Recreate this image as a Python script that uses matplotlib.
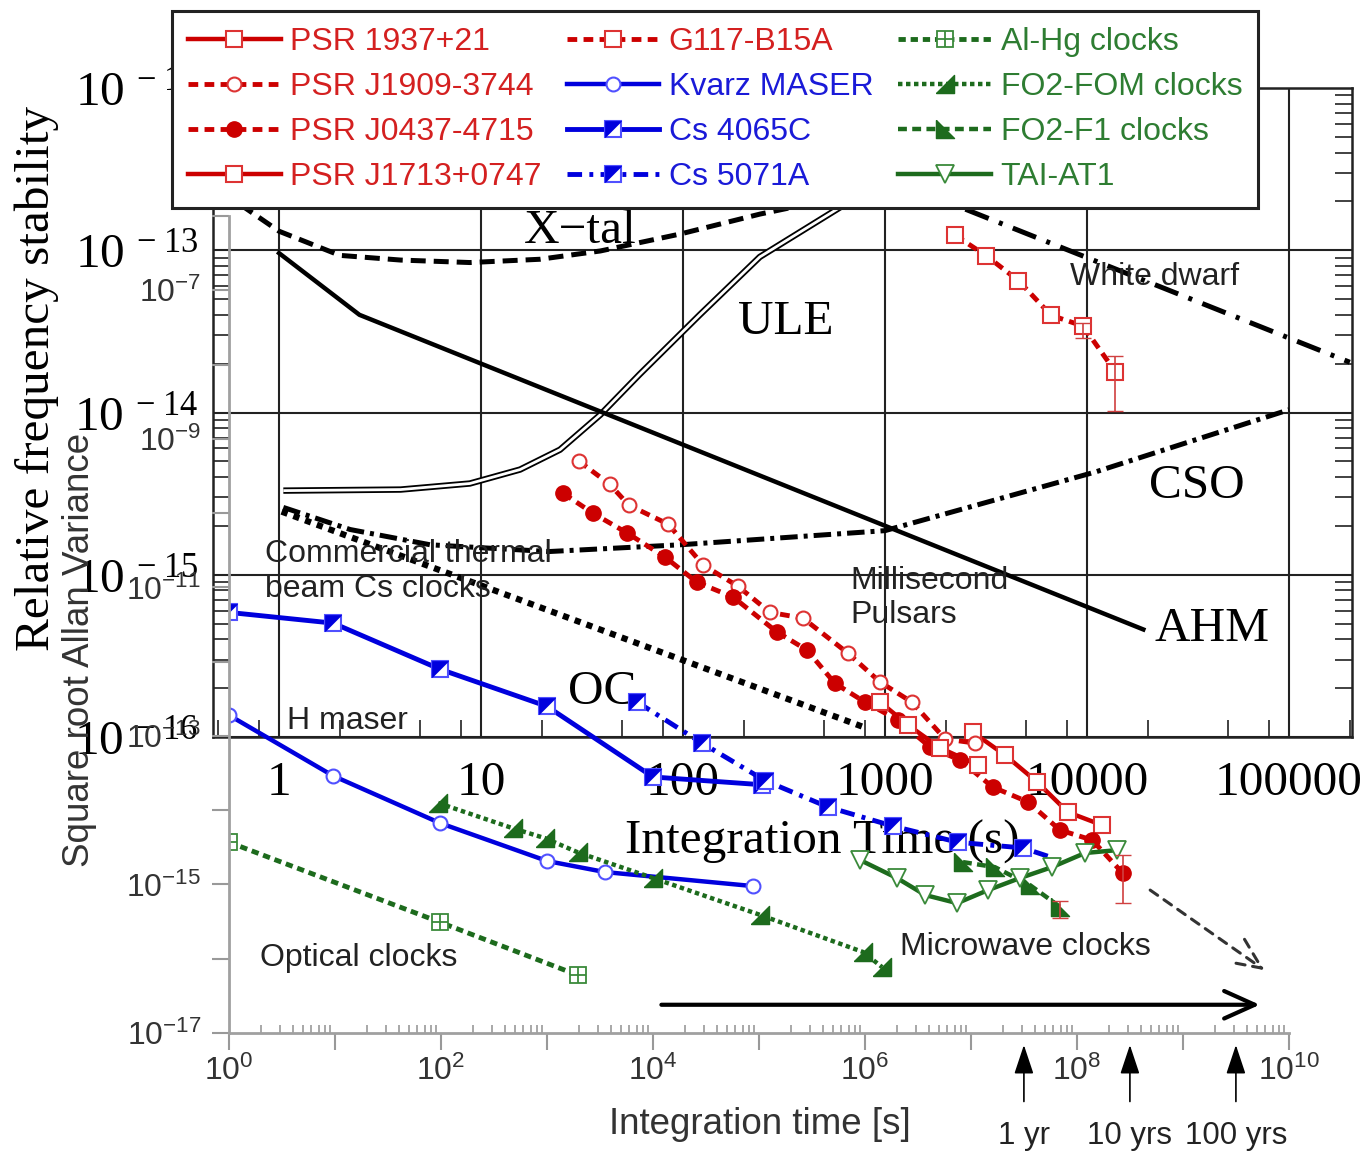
import numpy as np
import matplotlib.pyplot as plt
from matplotlib.ticker import FixedLocator, NullFormatter, LogLocator, NullLocator
from matplotlib.path import Path

plt.rcParams['font.family'] = 'Liberation Sans'

# ---------------- chart A : relative frequency stability ----------------
xtal_tau = [0.64, 1.0, 2.0, 4.0, 8.8, 19.6, 39, 97, 240, 600]
xtal_sig = [1.92e-13, 1.31e-13, 9.3e-14, 8.7e-14, 8.4e-14, 8.8e-14, 9.9e-14, 1.26e-13, 1.67e-13, 2.12e-13]

ule_tau = [1.05, 4.0, 8.8, 15.6, 24.6, 39, 61, 121, 240, 634]
ule_sig = [3.3e-15, 3.35e-15, 3.65e-15, 4.45e-15, 5.9e-15, 9.7e-15, 1.72e-14, 4.0e-14, 9.1e-14, 1.92e-13]

ahm_tau = [1.0, 2.5, 1.9e4]
ahm_sig = [9.6e-14, 4.0e-14, 4.6e-16]

cso_tau = [1.05, 2.25, 5.6, 21.7, 97, 1000, 1.1e4, 1.0e5]
cso_sig = [2.6e-15, 1.9e-15, 1.53e-15, 1.39e-15, 1.53e-15, 1.87e-15, 4.3e-15, 1.04e-14]

wd_tau = [2.5e3, 2.0e5]
wd_sig = [1.79e-13, 2.04e-14]

oc_tau = [1.03, 800]
oc_sig = [2.45e-15, 1.14e-16]

a_xticks = [1, 10, 100, 1000, 10000, 100000]
a_xticklabels = ['1', '10', '100', '1000', '10000', '100000']
a_yticks = [1e-16, 1e-15, 1e-14, 1e-13, 1e-12]
a_yticklabels = [r'$\mathdefault{10^{\,-16}}$', r'$\mathdefault{10^{\,-15}}$', r'$\mathdefault{10^{\,-14}}$',
                 r'$\mathdefault{10^{\,-13}}$', r'$\mathdefault{10^{\,-12}}$']

# ---------------- chart B : square root Allan variance ----------------
psr1937_tau = [1.04e7, 2.1e7, 4.2e7, 8.2e7, 1.72e8]
psr1937_sig = [1.12e-13, 5.5e-14, 2.4e-14, 9.4e-15, 6.3e-15]

j1909_tau = [2.0e3, 3.9e3, 5.9e3, 1.39e4, 2.97e4, 6.3e4, 1.27e5, 2.6e5, 6.9e5, 1.39e6, 2.77e6, 5.7e6, 1.09e7]
j1909_sig = [5.0e-10, 2.45e-10, 1.28e-10, 7.1e-11, 2.0e-11, 1.04e-11, 4.6e-12, 3.85e-12, 1.3e-12,
             5.3e-13, 2.85e-13, 9.1e-14, 8.0e-14]

j0437_tau = [1.42e3, 2.7e3, 5.7e3, 1.3e4, 2.6e4, 5.7e4, 1.48e5, 2.84e5, 5.2e5, 1.0e6, 2.05e6, 4.1e6,
             7.9e6, 1.6e7, 3.45e7, 6.9e7, 1.39e8, 2.7e8]
j0437_sig = [1.85e-10, 1.0e-10, 5.4e-11, 2.55e-11, 1.17e-11, 7.4e-12, 2.5e-12, 1.43e-12, 5.1e-13, 2.85e-13,
             1.63e-13, 7.1e-14, 4.7e-14, 2.05e-14, 1.29e-14, 5.4e-15, 3.96e-15, 1.42e-15]

j1713_tau = [1.39e6, 2.55e6, 5.1e6, 1.16e7]
j1713_sig = [2.85e-13, 1.4e-13, 6.9e-14, 4.05e-14]

g117_tau = [7.1e6, 1.4e7, 2.8e7, 5.7e7, 1.14e8, 2.3e8]
g117_sig = [5.5e-7, 2.9e-7, 1.35e-7, 4.6e-8, 3.3e-8, 8.0e-9]

kvarz_tau = [1, 9.6, 98, 1.0e3, 3.5e3, 8.8e4]
kvarz_sig = [1.9e-13, 2.9e-14, 6.7e-15, 2.07e-15, 1.47e-15, 9.5e-16]

cs4065_tau = [1, 9.6, 98, 1.0e3, 1.0e4, 1.07e5]
cs4065_sig = [4.6e-12, 3.3e-12, 7.9e-13, 2.5e-13, 2.8e-14, 2.2e-14]

cs5071_tau = [7.1e3, 2.9e4, 1.14e5, 4.5e5, 1.84e6, 7.5e6, 3.1e7, 5.6e7]
cs5071_sig = [2.85e-13, 8.0e-14, 2.5e-14, 1.1e-14, 6.1e-15, 3.7e-15, 3.1e-15, 2.34e-15]

alhg_tau = [1, 98, 1.96e3]
alhg_sig = [3.7e-15, 3.1e-16, 6.0e-17]

fom_tau = [94, 478, 957, 1.96e3, 1.0e4, 1.02e5, 9.6e5, 1.45e6]
fom_sig = [1.25e-14, 5.7e-15, 4.2e-15, 2.7e-15, 1.22e-15, 3.9e-16, 1.23e-16, 7.7e-17]

f1_tau = [8.4e6, 1.68e7, 3.6e7, 6.9e7]
f1_sig = [2.0e-15, 1.71e-15, 9.8e-16, 5.0e-16]

tai_tau = [9.0e5, 2.0e6, 3.7e6, 7.4e6, 1.45e7, 2.9e7, 5.8e7, 1.19e8, 2.4e8]
tai_sig = [2.13e-15, 1.22e-15, 7.2e-16, 5.6e-16, 8.4e-16, 1.22e-15, 1.71e-15, 2.65e-15, 2.9e-15]

# error bars (tau, value, lower end, upper end)
err_tau = [1.14e8, 2.3e8, 2.7e8, 6.9e7]
err_sig = [3.3e-8, 8.0e-9, 1.42e-15, 5.0e-16]
err_lo = [2.3e-8, 2.4e-9, 5.6e-16, 3.5e-16]
err_hi = [3.6e-8, 1.3e-8, 2.5e-15, 6.0e-16]

b_xticks = [10.0 ** k for k in range(0, 11)]
b_xticklabels = [r'$\mathdefault{10^{%d}}$' % k if k % 2 == 0 else '' for k in range(0, 11)]
b_yticks = [10.0 ** k for k in range(-17, -5)]
b_yticklabels = [r'$\mathdefault{10^{%d}}$' % k if k % 2 == 1 else '' for k in range(-17, -5)]

years_tau = [3.156e7, 3.156e8, 3.156e9]
years_lab = ['1 yr', '10 yrs', '100 yrs']

W, H = 1369, 1153
fig = plt.figure(figsize=(W / 100, H / 100), dpi=100)

RED = '#cc0000'
RED_M = '#dd3333'
BLUE = '#0000dd'
BLUE_M = '#5050ff'
GREEN = '#1d6b1d'
GREEN_L = '#3a8a3a'
SERIF = 'Liberation Serif'
FS_A = 35.5

# ---------------- axes A ----------------
axA = fig.add_axes([213 / W, (H - 737) / H, (1352 - 213) / W, (737 - 88) / H], zorder=1)
axA.set_xscale('log')
axA.set_yscale('log')
axA.set_xlim(0.471, 2.05e5)
axA.set_ylim(1e-16, 1e-12)

axA.plot(xtal_tau, xtal_sig, color='k', lw=3.6, ls=(0, (3, 1.6)))
axA.plot(ule_tau, ule_sig, color='k', lw=4.6, solid_capstyle='butt')
axA.plot(ule_tau, ule_sig, color='white', lw=2.0, solid_capstyle='butt')
axA.plot(ahm_tau, ahm_sig, color='k', lw=3.2)
axA.plot(cso_tau, cso_sig, color='k', lw=3.6, ls=(0, (3.5, 1.2, 0.8, 1.2)))
axA.plot(wd_tau, wd_sig, color='k', lw=3.6, ls=(0, (5, 2.2, 0.8, 2.2)))
axA.plot(oc_tau, oc_sig, color='k', lw=4.5, ls=(0, (1, 1)))

axA.text(30.9, 1.31e-13, 'X\u2212tal', fontfamily=SERIF, fontsize=FS_A, ha='center', va='center')
axA.text(324, 3.6e-14, 'ULE', fontfamily=SERIF, fontsize=FS_A, ha='center', va='center')
axA.text(3.5e4, 3.5e-15, 'CSO', fontfamily=SERIF, fontsize=FS_A, ha='center', va='center')
axA.text(4.16e4, 4.6e-16, 'AHM', fontfamily=SERIF, fontsize=FS_A, ha='center', va='center')
axA.text(39.7, 1.9e-16, 'OC', fontfamily=SERIF, fontsize=FS_A, ha='center', va='center')

axA.grid(True, which='major', color='#222222', lw=1.5)
axA.set_xticks(a_xticks, a_xticklabels, fontfamily=SERIF, fontsize=FS_A)
axA.set_yticks(a_yticks, a_yticklabels, fontfamily=SERIF, fontsize=FS_A)
axA.xaxis.set_minor_locator(LogLocator(base=10, subs=(2, 5, 8), numticks=20))
axA.yaxis.set_minor_locator(LogLocator(base=10, subs=np.arange(2, 10), numticks=20))
axA.xaxis.set_minor_formatter(NullFormatter())
axA.yaxis.set_minor_formatter(NullFormatter())
axA.tick_params(which='major', length=0)
axA.tick_params(axis='x', which='major', pad=17)
axA.tick_params(axis='y', which='major', pad=11)
axA.tick_params(which='minor', direction='in', length=12, width=1.3, color='#333333',
                left=True, right=True, bottom=True, top=False)
for s in axA.spines.values():
    s.set_linewidth(1.8)
    s.set_color('#222222')
axA.text(-0.1545, 0.553, 'Relative frequency stability', transform=axA.transAxes, rotation=90,
         fontfamily=SERIF, fontsize=FS_A, ha='center', va='center')
axA.text(0.535, -0.162, 'Integration Time (s)', transform=axA.transAxes,
         fontfamily=SERIF, fontsize=FS_A, ha='center', va='center')

# ---------------- axes B ----------------
axB = fig.add_axes([229 / W, (H - 1033) / H, (1289 - 229) / W, 817 / H], zorder=2)
axB.patch.set_alpha(0)
axB.set_xscale('log')
axB.set_yscale('log')
axB.set_xlim(1, 1e10)
axB.set_ylim(1e-17, 1e-6)

tri_ul = Path([(-1, -1), (-1, 1), (1, 1), (-1, -1)], closed=True)
tri_fom = [(-1, -1), (1, -1), (1, 1), (-1, -1)]
tri_f1 = [(-1, 1), (-1, -1), (1, -1), (-1, 1)]

h_1937, = axB.plot(psr1937_tau, psr1937_sig, color=RED, lw=3.2, marker='s', ms=11,
                   mfc='white', mec=RED_M, mew=1.5)
h_1909, = axB.plot(j1909_tau, j1909_sig, color=RED, lw=3.5, ls=(0, (2, 1.3)), marker='o', ms=10,
                   mfc='white', mec=RED_M, mew=1.5)
h_0437, = axB.plot(j0437_tau, j0437_sig, color=RED, lw=3.5, ls=(0, (2, 1.3)), marker='o', ms=11,
                   mfc=RED, mec=RED)
h_1713, = axB.plot(j1713_tau, j1713_sig, color=RED, lw=3.2, marker='s', ms=11,
                   mfc='white', mec=RED_M, mew=1.5)
h_g117, = axB.plot(g117_tau, g117_sig, color=RED, lw=3.5, ls=(0, (2, 1.3)), marker='s', ms=11,
                   mfc='white', mec=RED_M, mew=1.5)

h_kvarz, = axB.plot(kvarz_tau, kvarz_sig, color=BLUE, lw=3.2, marker='o', ms=10,
                    mfc='white', mec=BLUE_M, mew=1.5)
h_4065a, = axB.plot(cs4065_tau, cs4065_sig, color=BLUE, lw=3.5, marker='s', ms=11,
                    mfc='white', mec=BLUE_M, mew=1.5)
h_4065b, = axB.plot(cs4065_tau, cs4065_sig, ls='none', marker=tri_ul, ms=11, mfc=BLUE, mec=BLUE, mew=0.5)
h_5071a, = axB.plot(cs5071_tau, cs5071_sig, color=BLUE, lw=3.5, ls=(0, (3, 1.5, 0.8, 1.5)), marker='s',
                    ms=11, mfc='white', mec=BLUE_M, mew=1.5, markevery=slice(0, -1))
h_5071b, = axB.plot(cs5071_tau[:-1], cs5071_sig[:-1], ls='none', marker=tri_ul, ms=11,
                    mfc=BLUE, mec=BLUE, mew=0.5)

h_alhga, = axB.plot(alhg_tau, alhg_sig, color=GREEN, lw=3.5, ls=(0, (1.5, 1)), marker='s', ms=12,
                    mfc='white', mec=GREEN_L, mew=1.3)
h_alhgb, = axB.plot(alhg_tau, alhg_sig, ls='none', marker='+', ms=12, mec=GREEN_L, mew=1.3)
h_fom, = axB.plot(fom_tau, fom_sig, color=GREEN, lw=3.2, ls=(0, (1, 0.8)), marker=tri_fom, ms=13,
                  mfc=GREEN, mec=GREEN)
h_f1, = axB.plot(f1_tau, f1_sig, color=GREEN, lw=3.2, ls=(0, (2, 1.2)), marker=tri_f1, ms=13,
                 mfc=GREEN, mec=GREEN)
h_tai, = axB.plot(tai_tau, tai_sig, color=GREEN, lw=3.2, marker='v', ms=13,
                  mfc='white', mec=GREEN_L, mew=1.3)

lo = np.array(err_sig) - np.array(err_lo)
hi = np.array(err_hi) - np.array(err_sig)
axB.errorbar(err_tau, err_sig, yerr=[lo, hi], fmt='none', ecolor='#d04040', elinewidth=1.2, capsize=6)

axB.annotate('', xy=(5.3e9, 2.4e-17), xytext=(1.2e4, 2.4e-17),
             arrowprops=dict(arrowstyle='->, head_length=1.0, head_width=0.45', color='k', lw=3,
                             mutation_scale=22, shrinkA=0, shrinkB=0))
axB.annotate('', xy=(5.9e9, 7.0e-17), xytext=(4.9e8, 8.4e-16),
             arrowprops=dict(arrowstyle='->, head_length=1.0, head_width=0.45', color='#333333', lw=2.2,
                             ls=(0, (3, 2.5)), mutation_scale=22, shrinkA=0, shrinkB=0))

for t, lab in zip(years_tau, years_lab):
    axB.annotate(lab, xy=(t, -0.0147), xycoords=('data', 'axes fraction'),
                 xytext=(t, -0.126), textcoords=('data', 'axes fraction'),
                 ha='center', va='center', fontsize=22.5, color='#222222', annotation_clip=False,
                 arrowprops=dict(arrowstyle='-|>, head_length=0.9, head_width=0.3', color='k', lw=1.2,
                                 mutation_scale=20, shrinkA=12, shrinkB=0))

TXT = dict(fontsize=23, color='#222222', ha='left', va='center')
axB.text(2.19, 1.65e-11, 'Commercial thermal\nbeam Cs clocks', linespacing=1.2, **TXT)
axB.text(7.2e5, 7.2e-12, 'Millisecond\nPulsars', linespacing=1.2, **TXT)
axB.text(3.5, 1.58e-13, 'H maser', **TXT)
axB.text(1.96, 1.02e-16, 'Optical clocks', **TXT)
axB.text(2.14e6, 1.44e-16, 'Microwave clocks', **TXT)
axB.text(8.6e7, 1.5e-7, 'White dwarf', **TXT)

axB.spines['top'].set_visible(False)
axB.spines['right'].set_visible(False)
for side in ('left', 'bottom'):
    axB.spines[side].set_color('#a0a0a0')
    axB.spines[side].set_linewidth(2)
axB.xaxis.set_major_locator(FixedLocator(b_xticks))
axB.set_xticks(b_xticks, b_xticklabels, fontsize=23, color='#333333')
axB.set_yticks(b_yticks, b_yticklabels, fontsize=23, color='#333333')
axB.xaxis.set_minor_locator(LogLocator(base=10, subs=np.arange(2, 10), numticks=20))
axB.xaxis.set_minor_formatter(NullFormatter())
axB.yaxis.set_minor_locator(NullLocator())
axB.tick_params(which='major', direction='out', length=12, width=1.5, color='#999999')
axB.tick_params(axis='x', which='major', pad=4)
axB.tick_params(axis='y', which='major', pad=8)
axB.tick_params(which='minor', direction='in', length=6, width=1.2, color='#999999')
axB.text(0.501, -0.1126, 'Integration time [s]', transform=axB.transAxes,
         fontsize=26.5, color='#333333', ha='center', va='center')
axB.text(-0.1406, 0.469, 'Square root Allan Variance', transform=axB.transAxes, rotation=90,
         fontsize=26.5, color='#333333', ha='center', va='center')

handles = [h_1937, h_1909, h_0437, h_1713,
           h_g117, h_kvarz, (h_4065a, h_4065b), (h_5071a, h_5071b),
           (h_alhga, h_alhgb), h_fom, h_f1, h_tai]
labels = ['PSR 1937+21', 'PSR J1909-3744', 'PSR J0437-4715', 'PSR J1713+0747',
          'G117-B15A', 'Kvarz MASER', 'Cs 4065C', 'Cs 5071A',
          'Al-Hg clocks', 'FO2-FOM clocks', 'FO2-F1 clocks', 'TAI-AT1']
label_colors = ['#d42020'] * 5 + ['#1a1ad8'] * 3 + ['#2e7d32'] * 4

leg = axB.legend(handles, labels, ncol=3, loc='upper left', bbox_to_anchor=(172 / W, 1 - 11 / H),
                 bbox_transform=fig.transFigure, fontsize=23, handlelength=2.9, handletextpad=0.3,
                 columnspacing=0.78, labelspacing=0.47, borderpad=0.5, borderaxespad=0,
                 fancybox=False, framealpha=1, edgecolor='#222222', numpoints=1)
leg.get_frame().set_linewidth(2.2)
for txt, c in zip(leg.get_texts(), label_colors):
    txt.set_color(c)

fig.savefig('out.png', dpi=100)
